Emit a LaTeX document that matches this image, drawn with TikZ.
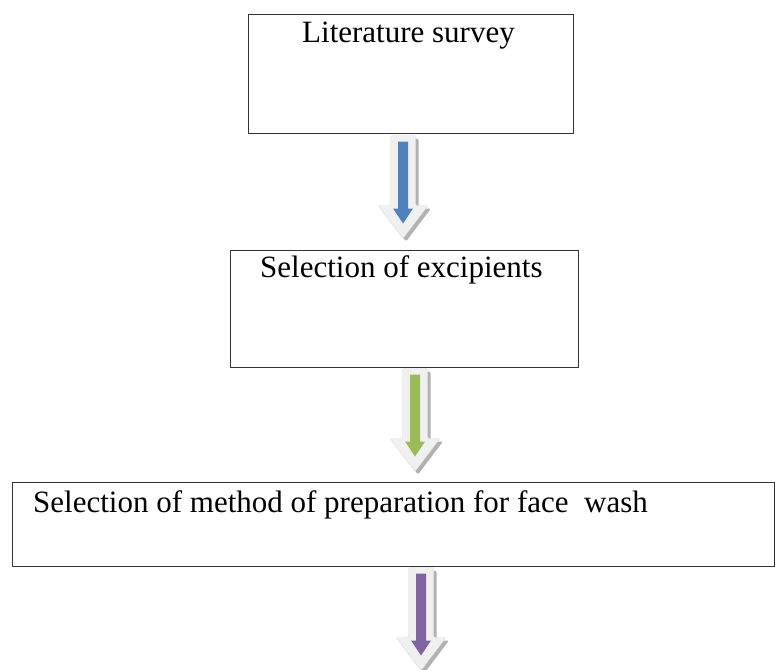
\documentclass[tikz,border=0pt]{standalone}
\usepackage{fontspec}
\setmainfont{Liberation Serif}
\usetikzlibrary{calc}
\definecolor{arrowblue}{HTML}{4F81BD}
\definecolor{arrowgreen}{HTML}{9BBB59}
\definecolor{arrowpurple}{HTML}{8064A2}
% block arrow: #1 = top point, #2 = colour
\newcommand{\flowarrow}[2]{%
  \begin{scope}[shift={#1}]
    \fill[black!30, rounded corners=2pt] (-9.5,3)--(15.5,3)--(15.5,73)--(28,73)--(3,106)--(-22,73)--(-9.5,73)--cycle;
    \filldraw[fill=black!6, draw=black!14, rounded corners=2pt] (-12.5,0)--(12.5,0)--(12.5,70)--(25,70)--(0,103)--(-25,70)--(-12.5,70)--cycle;
    \fill[#2] (-5,6)--(5,6)--(5,73)--(10,73)--(0,88)--(-10,73)--(-5,73)--cycle;
  \end{scope}}
\begin{document}
\begin{tikzpicture}[x=1pt, y=-1pt, font=\fontsize{31}{36}\selectfont]
    \useasboundingbox (0,0) rectangle (775,669);
    \node (litbox) [draw=black!80, line width=1pt, minimum width=325pt, minimum height=118pt, inner sep=0pt] at (410.5,74) {};
    \node (littext) [anchor=base west, inner sep=0pt] at (302,43) {Literature survey};
    \node (excbox) [draw=black!80, line width=1pt, minimum width=348pt, minimum height=117pt, inner sep=0pt] at (404,308.5) {};
    \node (exctext) [anchor=base west, inner sep=0pt] at (260,277) {Selection of excipients};
    \node (metbox) [draw=black!80, line width=1pt, minimum width=762pt, minimum height=84pt, inner sep=0pt] at (393,524) {};
    \node (mettext) [anchor=base west, inner sep=0pt] at (33,512) {Selection of method of preparation for face~ wash};
    \flowarrow{($(litbox.south)+(-7.5,2)$)}{arrowblue}
    \flowarrow{($(excbox.south)+(11,1)$)}{arrowgreen}
    \flowarrow{($(metbox.south)+(28,1)$)}{arrowpurple}
  \end{tikzpicture}
\end{document}
